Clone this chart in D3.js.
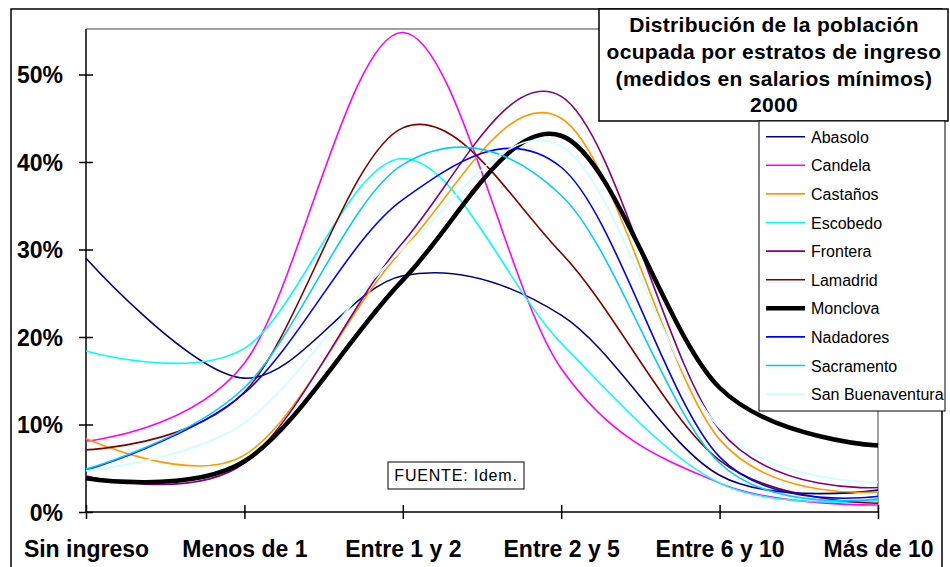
<!DOCTYPE html>
<html>
<head>
<meta charset="utf-8">
<script src="https://cdn.jsdelivr.net/npm/d3@7"></script>
<style>
  body { margin: 0; background: #fff; }
  svg { display: block; font-family: "Liberation Sans", Arial, sans-serif; }
</style>
</head>
<body>
<div class="chart"></div>
<script>
// categories on the x axis
var categories = ["Sin ingreso", "Menos de 1", "Entre 1 y 2", "Entre 2 y 5", "Entre 6 y 10", "Más de 10"];

// percent of employed population per municipality
var abasolo = [29.0, 15.3, 27.0, 22.5, 4.2, 2.5];
var candela = [8.1, 17.0, 54.8, 16.4, 3.3, 0.8];
var castanos = [8.4, 6.5, 30.0, 45.0, 8.3, 2.3];
var escobedo = [18.4, 18.7, 40.4, 19.3, 3.3, 1.3];
var frontera = [4.1, 5.6, 30.8, 47.5, 9.4, 2.8];
var lamadrid = [7.1, 13.7, 43.9, 29.6, 5.9, 1.0];
var monclova = [3.85, 5.8, 26.5, 43.0, 14.2, 7.6];
var nadadores = [4.8, 13.6, 35.7, 39.4, 6.3, 1.8];
var sacramento = [4.9, 14.2, 39.7, 36.2, 5.6, 1.5];
var sanBuenaventura = [4.7, 10.2, 30.0, 41.8, 9.6, 3.4];

var seriesNames = ["Abasolo", "Candela", "Castaños", "Escobedo", "Frontera", "Lamadrid",
  "Monclova", "Nadadores", "Sacramento", "San Buenaventura"];
var seriesValues = [abasolo, candela, castanos, escobedo, frontera, lamadrid,
  monclova, nadadores, sacramento, sanBuenaventura];
var seriesColors = ["#000080", "#ff00ff", "#ff9900", "#00ffff", "#800080", "#800000",
  "#000000", "#0000ff", "#00ccff", "#ccffff"];

var yTicks = [0, 10, 20, 30, 40, 50];
var titleLines = ["Distribución de la población", "ocupada por estratos de ingreso",
  "(medidos en salarios mínimos)", "2000"];

var svgWidth = 950, svgHeight = 567;
var svg = d3.select(".chart").append("svg")
  .attr("width", svgWidth)
  .attr("height", svgHeight);

// outer chart frame
svg.append("rect")
  .attr("x", 11).attr("y", 9)
  .attr("width", 931).attr("height", 600)
  .attr("fill", "#fff").attr("stroke", "#000").attr("stroke-width", 1.5);

var plotLeft = 86, plotRight = 878, plotTop = 29, plotBottom = 512;

var x = d3.scalePoint().domain(categories).range([plotLeft, plotRight]);
var y = d3.scaleLinear().domain([0, 55.2]).range([plotBottom, plotTop]);

// plot area top and right edges
svg.append("line").attr("x1", plotLeft).attr("x2", plotRight).attr("y1", plotTop).attr("y2", plotTop)
  .attr("stroke", "#808080").attr("stroke-width", 1.5);
svg.append("line").attr("x1", plotRight).attr("x2", plotRight).attr("y1", plotTop).attr("y2", plotBottom)
  .attr("stroke", "#808080").attr("stroke-width", 1.5);

// y axis
var yAxis = d3.axisLeft(y).tickValues(yTicks).tickSize(7).tickPadding(16)
  .tickFormat(d => d + "%");
var gy = svg.append("g").attr("transform", `translate(${plotLeft},0)`).call(yAxis);
gy.select(".domain").attr("stroke", "#000").attr("stroke-width", 1.5).attr("d", `M0,${plotTop}V${plotBottom}`);
gy.selectAll(".tick line").attr("x2", -7).attr("x1", 7).attr("stroke", "#000").attr("stroke-width", 1.5);
gy.selectAll(".tick text").attr("font-size", 23).attr("font-weight", "bold")
  .attr("fill", "#000").attr("dy", "0.36em")
  .attr("font-family", "'Liberation Sans', Arial, sans-serif");

// x axis
var xAxis = d3.axisBottom(x).tickSize(7).tickPadding(22);
var gx = svg.append("g").attr("transform", `translate(0,${plotBottom})`).call(xAxis);
gx.select(".domain").attr("stroke", "#000").attr("stroke-width", 1.5).attr("d", `M${plotLeft},0H${plotRight}`);
gx.selectAll(".tick line").attr("y1", -7).attr("y2", 7).attr("stroke", "#000").attr("stroke-width", 1.5);
gx.selectAll(".tick text").attr("font-size", 23).attr("font-weight", "bold")
  .attr("fill", "#000")
  .attr("font-family", "'Liberation Sans', Arial, sans-serif");

// smooth lines, like excel
var line = d3.line()
  .x((d, i) => x(categories[i]))
  .y(d => y(d))
  .curve(d3.curveCardinal.tension(0));

seriesValues.forEach(function(vals, i) {
  svg.append("path")
    .datum(vals)
    .attr("d", line)
    .attr("fill", "none")
    .attr("stroke", seriesColors[i])
    .attr("stroke-width", seriesNames[i] == "Monclova" ? 4.5 : 1.6)
    .attr("stroke-linejoin", "round");
});

// source note
svg.append("rect")
  .attr("x", 388).attr("y", 462).attr("width", 136).attr("height", 27)
  .attr("fill", "#fff").attr("stroke", "#000").attr("stroke-width", 1);
svg.append("text")
  .attr("x", 456).attr("y", 481)
  .attr("text-anchor", "middle")
  .attr("font-size", 16).attr("letter-spacing", "0.8px")
  .text("FUENTE: Idem.");

// title box
svg.append("rect")
  .attr("x", 599).attr("y", 9).attr("width", 349).attr("height", 112)
  .attr("fill", "#fff").attr("stroke", "#000").attr("stroke-width", 1.5);
svg.selectAll(".title")
  .data(titleLines)
  .enter()
  .append("text")
  .attr("class", "title")
  .attr("x", 774)
  .attr("y", (d, i) => 32 + i * 26.8)
  .attr("text-anchor", "middle")
  .attr("font-size", 21).attr("font-weight", "bold").attr("letter-spacing", "0.3px")
  .text(d => d);

// legend
var legend = svg.append("g");
legend.append("rect")
  .attr("x", 759).attr("y", 121).attr("width", 186).attr("height", 290)
  .attr("fill", "#fff").attr("stroke", "#000").attr("stroke-width", 1);
seriesNames.forEach(function(name, i) {
  var cy = 136.7 + i * 28.6;
  legend.append("line")
    .attr("x1", 766).attr("x2", 805).attr("y1", cy).attr("y2", cy)
    .attr("stroke", seriesColors[i])
    .attr("stroke-width", name == "Monclova" ? 4.5 : 1.6);
  legend.append("text")
    .attr("x", 811).attr("y", cy + 6)
    .attr("font-size", 16)
    .text(name);
});
</script>
</body>
</html>
